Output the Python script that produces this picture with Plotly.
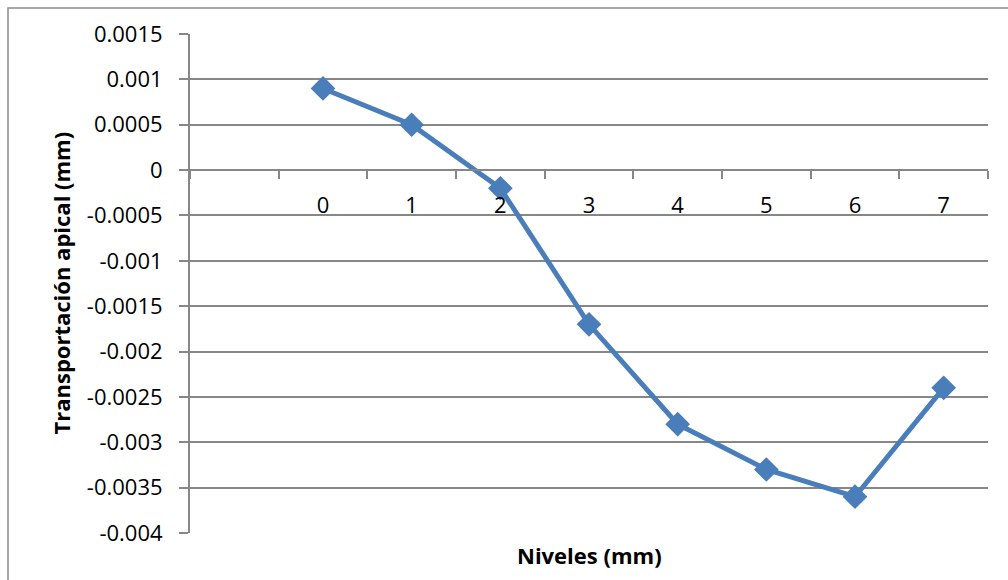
import plotly.graph_objects as go

niveles = [0, 1, 2, 3, 4, 5, 6, 7]
transportacion = [0.0009, 0.0005, -0.0002, -0.0017, -0.0028, -0.0033, -0.0036, -0.0024]
x_tick_labels = ["0", "1", "2", "3", "4", "5", "6", "7"]
y_tick_vals = [0.0015, 0.001, 0.0005, 0, -0.0005, -0.001, -0.0015, -0.002,
               -0.0025, -0.003, -0.0035, -0.004]
y_tick_labels = ["0.0015", "0.001", "0.0005", "0", "-0.0005", "-0.001", "-0.0015",
                 "-0.002", "-0.0025", "-0.003", "-0.0035", "-0.004"]
x_boundaries = [-1.5, -0.5, 0.5, 1.5, 2.5, 3.5, 4.5, 5.5, 6.5, 7.5]

FONT = "Open Sans, Calibri, sans-serif"
GRID = "#878787"
BLUE = "#4A7EBB"

fig = go.Figure()
fig.add_trace(go.Scatter(
    x=niveles, y=transportacion, mode="lines+markers",
    line=dict(color=BLUE, width=5),
    marker=dict(symbol="diamond", size=19, color=BLUE),
    showlegend=False, cliponaxis=False,
))

y_min, y_max = -0.004, 0.0015
zero_pos = (0 - y_min) / (y_max - y_min)

fig.update_layout(
    width=1008, height=580,
    margin=dict(l=190, r=20, t=34, b=47),
    paper_bgcolor="white", plot_bgcolor="white",
    font=dict(family=FONT, size=22, color="black"),
    xaxis=dict(
        range=[-1.5, 7.5], anchor="free", position=zero_pos,
        tickmode="array", tickvals=niveles, ticktext=x_tick_labels,
        ticks="", showgrid=False, zeroline=False,
        showline=True, linecolor=GRID, linewidth=2,
        ticklabelstandoff=16,
        tickfont=dict(family=FONT, size=22),
        minor=dict(tickmode="array", tickvals=x_boundaries, ticks="outside",
                   ticklen=8, tickcolor=GRID, tickwidth=2, showgrid=False),
    ),
    yaxis=dict(
        range=[y_min, y_max], tickmode="array", tickvals=y_tick_vals,
        ticktext=y_tick_labels, ticks="outside", ticklen=9, tickcolor=GRID,
        tickwidth=2, showgrid=True, gridcolor=GRID, gridwidth=2,
        zeroline=False, showline=True, linecolor=GRID, linewidth=2,
        ticklabelstandoff=12,
        tickfont=dict(family=FONT, size=22),
    ),
    annotations=[
        dict(text="<b>Niveles (mm)</b>", xref="paper", yref="paper",
             x=0.5, y=-0.044, xanchor="center", yanchor="middle",
             showarrow=False, font=dict(family=FONT, size=22)),
        dict(text="<b>Transportación apical (mm)</b>", xref="paper", yref="paper",
             x=(60 - 190) / 798, y=0.5, xanchor="center", yanchor="middle",
             textangle=-90, showarrow=False, font=dict(family=FONT, size=22)),
    ],
    shapes=[
        dict(type="rect", xref="paper", yref="paper",
             x0=(8 - 190) / 798, x1=(1012 - 190) / 798,
             y0=-0.2, y1=1 + 26 / 499,
             line=dict(color="#8C8C8C", width=1.5), fillcolor="rgba(0,0,0,0)",
             layer="below"),
    ],
)

fig.write_html("out.html")
